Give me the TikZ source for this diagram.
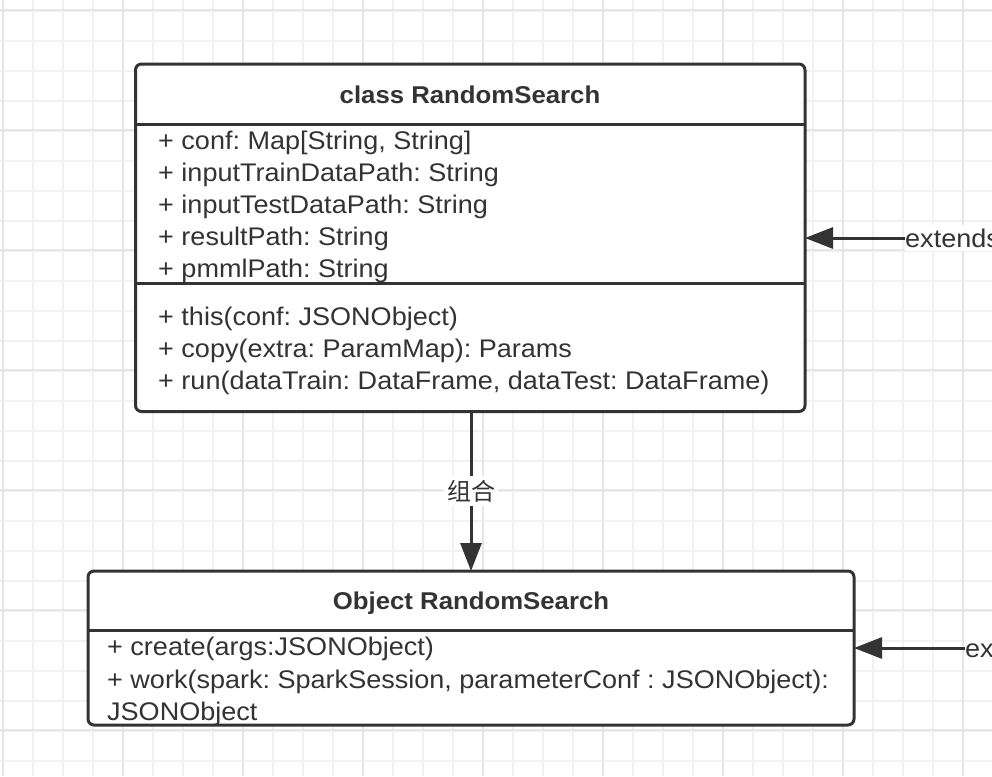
\documentclass[tikz,border=0pt]{standalone}
\usepackage{fontspec}
\setmainfont[FakeStretch=1.06]{Liberation Sans}
\newfontfamily\cjk{Noto Sans CJK SC}
\usetikzlibrary{arrows.meta}
\definecolor{ink}{HTML}{333333}
\definecolor{gridminor}{HTML}{F1F1F1}
\definecolor{gridmajor}{HTML}{E6E6E6}
\frenchspacing
\begin{document}
\begin{tikzpicture}[x=1pt,y=-1pt,
  umlbox/.style={draw=ink, line width=3pt, rounded corners=6pt, fill=white, inner sep=0pt, outer sep=0pt},
  divider/.style={draw=ink, line width=3pt},
  txt/.style={anchor=base west, inner sep=0pt, text=ink, font=\fontsize{25.5}{30}\selectfont},
  ttl/.style={anchor=base, inner sep=0pt, text=ink, font=\fontsize{24.3}{30}\selectfont\bfseries},
  arr/.style={draw=ink, line width=3pt, -{Triangle[length=28pt,width=21pt]}},
  lbl/.style={fill=white, text=ink, inner xsep=0pt, inner ysep=4pt, anchor=west, font=\fontsize{25.5}{30}\selectfont},
  cjklbl/.style={fill=white, text=ink, inner xsep=3pt, inner ysep=4pt, font=\fontsize{24}{30}\selectfont\cjk}
]
\useasboundingbox (0,0) rectangle (992,776);
\clip (0,0) rectangle (992,776);
\fill[white] (0,0) rectangle (992,776);
% grid
\foreach \x in {3,33,...,993} \draw[gridminor, line width=1.5pt] (\x,0) -- (\x,776);
\foreach \y in {11,41,...,776} \draw[gridminor, line width=1.5pt] (0,\y) -- (992,\y);
\foreach \x in {3,123,...,993} \draw[gridmajor, line width=1.5pt] (\x,0) -- (\x,776);
\foreach \y in {10,130,...,776} \draw[gridmajor, line width=1.5pt] (0,\y) -- (992,\y);

% class RandomSearch
\node[umlbox, minimum width=669.5pt, minimum height=347.5pt] (cls) at (470.25,237.75) {};
\draw[divider] (cls.west |- 0,124.5) -- (cls.east |- 0,124.5);
\draw[divider] (cls.west |- 0,283.5) -- (cls.east |- 0,283.5);
\node[ttl] (clsTitle) at (470,103.5) {class RandomSearch};
\node[txt] (a1) at (158,149) {+ conf: Map[String, String]};
\node[txt] (a2) at (158,181) {+ inputTrainDataPath: String};
\node[txt] (a3) at (158,213) {+ inputTestDataPath: String};
\node[txt] (a4) at (158,245) {+ resultPath: String};
\node[txt] (a5) at (158,277) {+ pmmlPath: String};
\node[txt] (m1) at (158,325) {+ this(conf: JSONObject)};
\node[txt] (m2) at (158,357) {+ copy(extra: ParamMap): Params};
\node[txt] (m3) at (158,389) {+ run(dataTrain: DataFrame, dataTest: DataFrame)};

% Object RandomSearch
\node[umlbox, minimum width=766pt, minimum height=154pt] (obj) at (471,648) {};
\draw[divider] (obj.west |- 0,630) -- (obj.east |- 0,630);
\node[ttl] (objTitle) at (471,609.5) {Object RandomSearch};
\node[txt] (o1) at (107,655) {+ create(args:JSONObject)};
\node[txt] (o2) at (107,688) {+ work(spark: SparkSession, parameterConf : JSONObject):};
\node[txt] (o3) at (107,720) {JSONObject};

% composition arrow
\draw[arr] (cls.south -| 471,0) -- (obj.north -| 471,0);
\node[cjklbl] (comp) at (471,491) {组合};

% extends arrows
\coordinate (e1) at (905,238);
\draw[arr] (e1) -- (cls.east |- e1);
\node[lbl] (e1l) at (e1) {extends};
\coordinate (e2) at (965,648);
\draw[arr] (e2) -- (obj.east |- e2);
\node[lbl] (e2l) at (e2) {extends};
\end{tikzpicture}
\end{document}
